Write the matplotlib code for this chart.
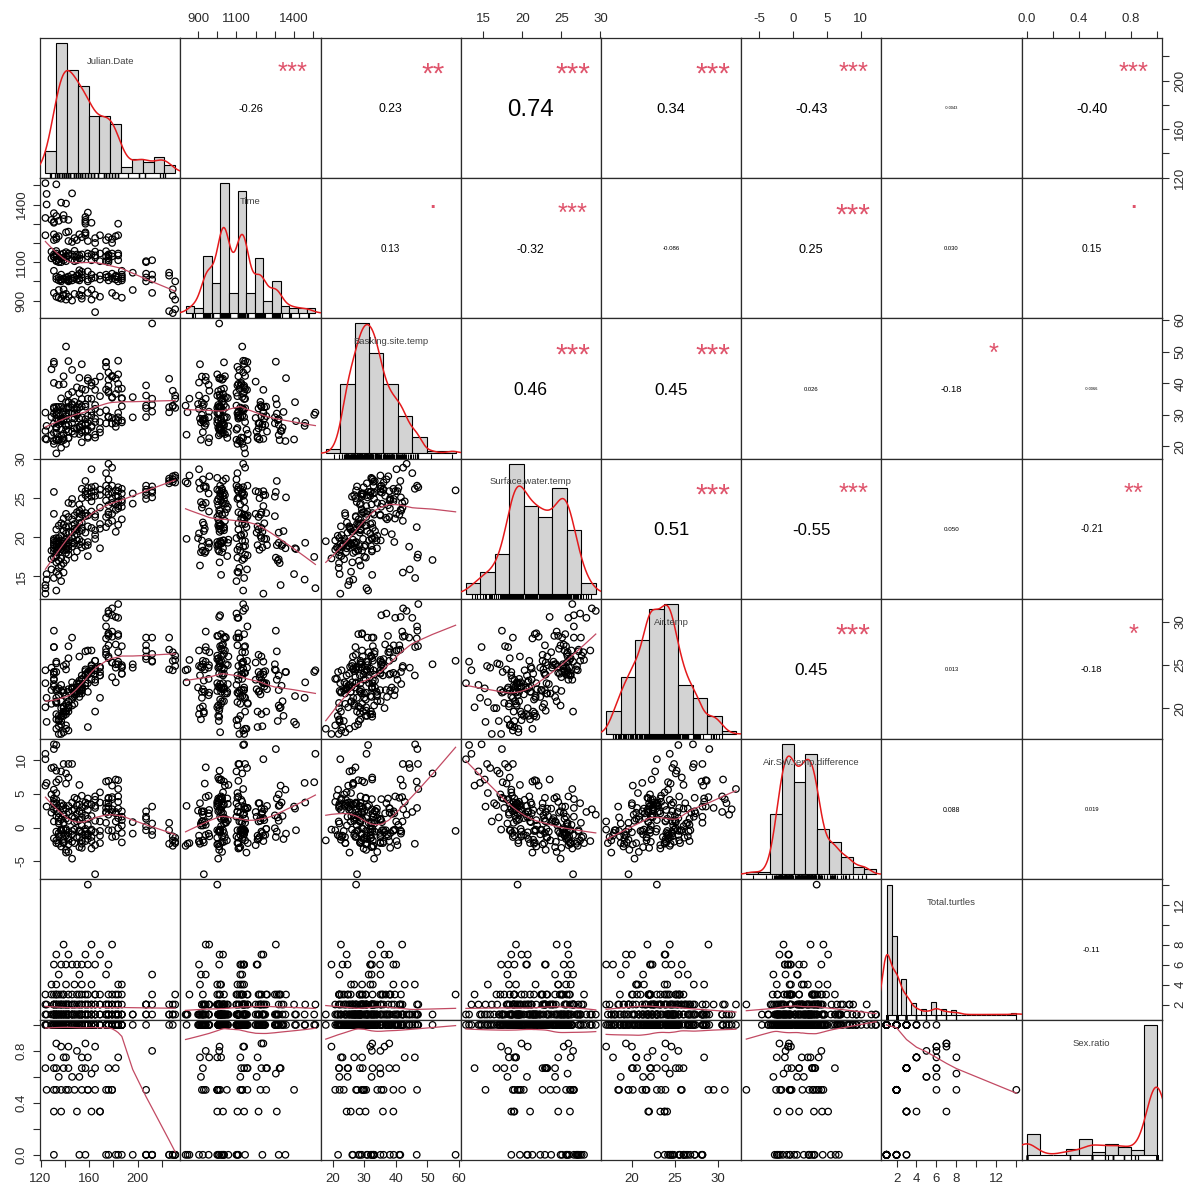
"""
turtle_pairs.py
Correlation matrix chart for the basking-turtle survey: histograms with
density curves on the diagonal, scatter + lowess below, coefficients above.
"""

import numpy as np
import matplotlib
matplotlib.use("Agg")
import matplotlib.pyplot as plt
from matplotlib.transforms import blended_transform_factory

plt.rcParams["font.family"] = ["Liberation Sans", "DejaVu Sans"]


# ─── Survey observations (one entry per sighting, grouped by day) ────────────

julian_date = [
    124, 124, 124,
    125, 125,
    129, 129, 129,
    131, 131, 131, 131, 131, 131, 131, 131, 131, 131,
    133, 133, 133, 133, 133, 133, 133, 133, 133, 133, 133, 133,
    135, 135, 135, 135, 135, 135, 135, 135,
    137, 137, 137, 137, 137, 137, 137, 137, 137,
    139, 139, 139, 139, 139, 139, 139, 139, 139,
    141, 141, 141, 141, 141, 141, 141, 141, 141,
    143, 143, 143, 143, 143, 143, 143, 143, 143, 143,
    146, 146, 146, 146, 146, 146, 146, 146,
    148, 148, 148, 148, 148, 148,
    150, 150, 150, 150, 150,
    152, 152, 152, 152, 152, 152, 152, 152,
    154, 154, 154, 154, 154, 154, 154, 154, 154,
    157, 157, 157, 157, 157, 157, 157,
    159, 159, 159, 159, 159, 159, 159, 159,
    162, 162, 162, 162, 162, 162, 162,
    165, 165, 165, 165, 165, 165, 165, 165,
    169, 169, 169, 169, 169, 169,
    174, 174, 174, 174, 174, 174,
    176, 176, 176, 176, 176, 176, 176, 176,
    179, 179, 179, 179, 179, 179, 179,
    182, 182, 182, 182, 182,
    184, 184, 184, 184, 184, 184, 184,
    187, 187, 187, 187, 187, 187,
    196, 196,
    207, 207, 207, 207, 207,
    212, 212, 212, 212,
    226, 226, 226,
    229, 229, 229,
    231, 231, 231,
]

time_hhmm = [
    1240, 1511, 1330,
    1455, 1400,
    1155, 1320, 1120,
    1140, 1305, 940, 1355, 1310, 1055, 1245, 1125, 1215, 1130,
    1135, 1012, 1505, 1220, 920, 1340, 1145, 1230, 1025, 1110, 1158, 1105,
    1020, 1115, 1315, 915, 1235, 955, 1100, 1005,
    1100, 910, 1140, 1410, 1008, 1035, 1000, 1120, 1010,
    1110, 1325, 925, 1145, 1015, 958, 1345, 930, 1125,
    1130, 935, 1405, 1020, 1255, 1105, 905, 1152, 1010,
    1145, 1005, 1259, 920, 1320, 1135, 1012, 1210, 1000, 1025,
    1115, 1458, 900, 1205, 1015, 1140, 1035, 1005,
    1020, 1225, 935, 1130, 1159, 1105,
    1030, 1215, 1140, 1110, 1010,
    1058, 930, 1245, 1135, 1040, 1120, 1005, 1015,
    1020, 1230, 925, 1140, 1050, 955, 1115, 1035, 910,
    1320, 1300, 1335, 1255, 1250, 1240, 1310,
    1010, 1145, 1000, 1052, 1358, 1130, 940, 1210,
    1035, 957, 1140, 1015, 1305, 1110, 905,
    1020, 1155, 840, 1225, 1135, 1200, 930, 1125,
    1145, 920, 1030, 1240, 1105, 1010,
    1035, 1215, 1020, 1130, 1157, 1105,
    1110, 1025, 1230, 1005, 1140, 1120, 1100, 1135,
    1040, 1200, 940, 1220, 1130, 1015, 1145,
    1235, 1010, 925, 1030, 1025,
    1020, 1145, 1240, 1000, 1300, 1110, 1135,
    1005, 1055, 915, 1035, 1015, 1025,
    1045, 955,
    1105, 1040, 1020, 1000, 1100,
    1110, 1035, 1010, 940,
    845, 1030, 1045,
    835, 925, 959,
    905, 1000, 855,
]

basking_site_temp = [
    22.4, 30.7, 24.9,
    26.5, 22.2,
    44.4, 23.6, 29.3,
    46.1, 46.8, 27.2, 21.7, 30.4, 24.3, 32.4, 40.1, 32.0, 20.8,
    31.2, 26.2, 30.0, 22.2, 30.0, 25.9, 17.8, 32.5, 24.2, 28.8, 22.0, 25.8,
    32.5, 21.9, 28.3, 22.1, 27.0, 39.5, 22.1, 30.4,
    25.3, 28.8, 19.6, 28.0, 23.5, 35.2, 28.5, 21.6, 32.5,
    42.2, 22.0, 28.1, 32.1, 24.0, 22.6, 30.9, 28.6, 39.7,
    51.6, 26.5, 34.0, 26.8, 29.6, 20.8, 31.9, 25.3, 30.6,
    47.0, 32.5, 24.7, 33.9, 26.8, 22.7, 36.4, 22.6, 30.6, 34.1,
    44.2, 27.4, 33.4, 24.7, 30.5, 37.2, 28.9, 33.1,
    25.7, 34.1, 28.8, 31.9, 24.0, 30.5,
    31.5, 25.7, 38.7, 29.9, 32.4,
    26.4, 33.4, 28.8, 36.8, 23.9, 32.3, 26.0, 41.7,
    25.1, 32.7, 24.5, 35.0, 29.2, 21.3, 38.2, 27.0, 46.0,
    28.6, 27.3, 24.9, 32.6, 26.8, 37.9, 33.3,
    25.2, 35.1, 27.4, 22.7, 41.6, 29.7, 40.8, 23.1,
    26.5, 31.0, 39.2, 26.1, 35.1, 29.8, 40.2,
    28.8, 37.9, 23.7, 33.1, 31.9, 40.5, 27.7, 22.8,
    27.7, 42.1, 24.4, 30.8, 35.9, 25.5,
    46.6, 27.3, 38.0, 31.4, 46.7, 45.2,
    29.3, 41.1, 29.5, 37.5, 29.3, 39.2, 37.0, 43.4,
    42.2, 29.0, 42.0, 27.2, 35.6, 35.4, 42.3,
    26.2, 41.5, 28.6, 36.6, 27.4,
    28.1, 38.1, 30.6, 42.8, 29.2, 39.8, 47.1,
    28.2, 35.3, 27.6, 38.3, 32.7, 35.1,
    35.6, 29.2,
    39.3, 29.3, 32.1, 36.1, 32.9,
    31.0, 33.2, 58.9, 35.1,
    30.8, 41.4, 32.4,
    32.9, 32.7, 37.6,
    36.1, 32.2, 35.1,
]

surface_water_temp = [
    12.8, 13.5, 13.9,
    14.6, 15.3,
    15.9, 17.2, 18.3,
    14.8, 17.4, 18.2, 18.6, 19.0, 19.3, 19.8, 23.0, 25.8, 19.6,
    13.2, 16.8, 17.5, 18.4, 18.8, 19.1, 19.5, 19.9, 18.1, 21.0, 17.7, 15.6,
    15.2, 16.1, 17.0, 18.1, 18.7, 19.4, 19.9, 21.5,
    14.4, 16.4, 17.3, 18.5, 19.0, 19.6, 18.9, 20.2, 21.8,
    15.5, 16.7, 18.3, 18.9, 19.5, 19.2, 20.8, 21.6, 22.4,
    17.1, 18.0, 18.6, 19.2, 19.8, 18.4, 20.5, 21.3, 23.0,
    17.8, 18.4, 19.0, 19.6, 19.3, 18.8, 20.7, 21.4, 22.6, 24.4,
    18.8, 19.3, 19.9, 20.6, 21.5, 22.3, 24.3, 24.9,
    19.2, 20.2, 21.1, 21.7, 22.8, 17.4,
    19.6, 21.0, 20.4, 23.2, 18.2,
    19.7, 20.8, 21.8, 22.5, 23.1, 24.2, 19.1, 23.4,
    19.4, 21.2, 21.9, 22.9, 23.6, 18.7, 25.0, 20.9, 26.2,
    20.6, 22.7, 18.9, 23.1, 25.4, 25.9, 27.2,
    21.4, 22.8, 19.4, 17.6, 25.1, 25.6, 26.3, 19.0,
    21.2, 23.3, 24.6, 25.2, 25.8, 26.4, 28.7,
    20.9, 22.6, 19.8, 22.9, 25.3, 25.9, 26.5, 20.3,
    21.7, 23.8, 18.6, 25.4, 26.1, 21.1,
    21.3, 22.6, 24.7, 25.8, 26.6, 28.2,
    21.8, 22.9, 23.2, 24.1, 25.5, 26.2, 27.4, 29.4,
    22.1, 23.0, 24.4, 25.0, 25.7, 26.6, 28.9,
    20.7, 23.5, 24.2, 25.3, 26.0,
    21.6, 23.7, 24.0, 24.6, 25.2, 25.9, 26.4,
    22.3, 23.9, 24.5, 24.8, 25.6, 26.2,
    24.3, 25.6,
    24.9, 25.4, 25.8, 26.1, 26.6,
    25.1, 25.7, 26.0, 26.5,
    26.9, 27.2, 27.5,
    27.1, 27.4, 27.8,
    27.0, 27.6, 27.9,
]

air_temp = [
    22.9, 24.4, 20.1,
    21.2, 18.4,
    24.7, 22.1, 20.5,
    27.1, 29.0, 27.1, 24.2, 23.3, 22.8, 22.5, 23.9, 24.2, 23.4,
    25.4, 25.2, 24.2, 22.0, 21.2, 20.8, 17.6, 19.3, 22.2, 18.7, 20.6, 20.7,
    22.3, 17.0, 18.5, 18.7, 17.9, 21.5, 18.6, 19.1,
    22.7, 20.0, 17.0, 18.1, 18.5, 20.8, 22.0, 19.1, 19.0,
    24.9, 20.0, 20.2, 19.6, 17.2, 21.8, 19.1, 19.4, 22.1,
    25.1, 24.5, 21.4, 20.5, 19.6, 18.0, 19.3, 17.6, 19.7,
    27.2, 25.8, 22.2, 21.9, 20.3, 17.4, 20.0, 19.6, 20.1, 20.8,
    28.2, 23.0, 22.4, 22.2, 21.0, 21.3, 22.2, 20.3,
    21.9, 21.6, 21.9, 21.4, 20.5, 21.8,
    22.9, 21.9, 22.4, 21.7, 22.4,
    26.0, 23.2, 22.9, 22.1, 21.7, 21.3, 22.5, 22.8,
    22.4, 23.3, 22.2, 22.1, 21.7, 23.4, 22.0, 22.4, 23.8,
    23.8, 24.5, 22.6, 22.9, 24.3, 23.9, 26.6,
    24.0, 24.1, 22.9, 21.9, 24.2, 23.9, 26.7, 17.8,
    24.6, 25.0, 24.1, 24.9, 24.4, 23.3, 26.7,
    25.5, 25.5, 23.0, 23.9, 24.6, 23.3, 19.6, 24.4,
    21.2, 24.7, 23.8, 24.2, 23.8, 24.8,
    28.1, 26.2, 26.9, 26.5, 29.5, 30.5,
    28.7, 27.3, 26.0, 28.4, 28.6, 25.8, 31.0, 31.3,
    28.3, 25.3, 28.9, 23.6, 25.3, 30.8, 31.6,
    23.0, 30.6, 25.1, 27.4, 24.7,
    28.6, 26.5, 25.4, 28.4, 25.1, 30.5, 32.1,
    24.7, 25.0, 24.8, 24.0, 27.2, 24.0,
    25.1, 24.7,
    27.3, 26.7, 26.0, 25.7, 28.2,
    28.2, 26.3, 25.5, 25.4,
    24.5, 26.8, 28.2,
    24.4, 25.5, 26.5,
    24.9, 26.1, 25.6,
]

air_sw_temp_difference = [
    10.1, 10.9, 6.2,
    6.6, 3.1,
    8.8, 4.9, 2.2,
    12.3, 11.6, 8.9, 5.6, 4.3, 3.5, 2.7, 0.9, -1.6, 3.8,
    12.2, 8.4, 6.7, 3.6, 2.4, 1.7, -1.9, -0.6, 4.1, -2.3, 2.9, 5.1,
    7.1, 0.9, 1.5, 0.6, -0.8, 2.1, -1.3, -2.4,
    8.3, 3.6, -0.3, -0.4, -0.5, 1.2, 3.1, -1.1, -2.8,
    9.4, 3.3, 1.9, 0.7, -2.3, 2.6, -1.7, -2.2, -0.3,
    8.0, 6.5, 2.8, 1.3, -0.2, -0.4, -1.2, -3.7, -3.3,
    9.4, 7.4, 3.2, 2.3, 1.0, -1.4, -0.7, -1.8, -2.5, -3.6,
    9.4, 3.7, 2.5, 1.6, -0.5, -1.0, -2.1, -4.6,
    2.7, 1.4, 0.8, -0.3, -2.3, 4.4,
    3.3, 0.9, 2.0, -1.5, 4.2,
    6.3, 2.4, 1.1, -0.4, -1.4, -2.9, 3.4, -0.6,
    3.0, 2.1, 0.3, -0.8, -1.9, 4.7, -3.0, 1.5, -2.4,
    3.2, 1.8, 3.7, -0.2, -1.1, -2.0, -0.6,
    2.6, 1.3, 3.5, 4.3, -0.9, -1.7, 0.4, -1.2,
    3.4, 1.7, -0.5, -0.3, -1.4, -3.1, -2.0,
    4.6, 2.9, 3.2, 1.0, -0.7, -2.6, -6.9, 4.1,
    -0.5, 0.9, 5.2, -1.2, -2.3, 3.7,
    6.8, 3.6, 2.2, 0.7, 2.9, 2.3,
    6.9, 4.4, 2.8, 4.3, 3.1, -0.4, 3.6, 1.9,
    6.2, 2.3, 4.5, -1.4, -0.4, 4.2, 2.7,
    2.3, 7.1, 0.9, 2.1, -1.3,
    7.0, 2.8, 1.4, 3.8, -0.1, 4.6, 5.7,
    2.4, 1.1, 0.3, -0.8, 1.6, -2.2,
    0.8, -0.9,
    2.4, 1.3, 0.2, -0.4, 1.6,
    3.1, 0.6, -0.5, -1.1,
    -2.4, -0.4, 0.7,
    -2.7, -1.9, -1.3,
    -2.1, -1.5, -2.3,
]

total_turtles = [
    1, 2, 3,
    1, 2,
    1, 3, 4,
    1, 1, 2, 1, 3, 1, 2, 6, 1, 2,
    1, 2, 1, 3, 2, 1, 1, 7, 2, 1, 3, 4,
    1, 2, 1, 5, 1, 2, 3, 1,
    2, 1, 6, 1, 2, 1, 3, 1, 2,
    1, 3, 1, 2, 1, 8, 2, 1, 3,
    1, 2, 1, 4, 2, 1, 6, 1, 2,
    1, 2, 3, 1, 1, 2, 7, 1, 2, 1,
    1, 2, 1, 6, 3, 1, 2, 1,
    1, 2, 1, 4, 2, 1,
    1, 3, 2, 1, 6,
    1, 2, 1, 3, 1, 5, 2, 1,
    1, 2, 1, 6, 2, 1, 3, 1, 4,
    2, 1, 2, 3, 1, 7, 1,
    1, 2, 14, 1, 3, 2, 1, 6,
    2, 1, 4, 1, 8, 2, 1,
    1, 3, 1, 2, 6, 1, 2, 3,
    1, 2, 7, 1, 3, 2,
    1, 2, 1, 5, 2, 1,
    1, 2, 3, 1, 2, 6, 1, 1,
    1, 2, 8, 1, 3, 2, 1,
    1, 2, 3, 1, 1,
    1, 1, 2, 4, 3, 1, 2,
    1, 2, 1, 3, 4, 1,
    1, 1,
    1, 2, 1, 2, 2,
    1, 2, 3, 5,
    1, 2, 1,
    1, 1, 2,
    1, 2, 3,
]

sex_ratio = [
    1, 1, 0.667,
    1, 0.5,
    1, 1, 0.75,
    1, 1, 1, 0, 0.333, 1, 1, 0.667, 1, 0.5,
    1, 1, 1, 1, 0.5, 1, 1, 0.857, 1, 1, 0.667, 1,
    1, 1, 1, 0.6, 1, 1, 1, 1,
    1, 1, 0.833, 1, 0.5, 1, 0.333, 1, 1,
    1, 0.667, 1, 1, 1, 0.75, 1, 1, 1,
    1, 1, 1, 0.75, 0.5, 1, 1, 1, 1,
    1, 1, 0.667, 1, 1, 1, 0.833, 1, 0.5, 1,
    1, 1, 1, 0.6, 1, 1, 1, 1,
    1, 0.5, 1, 1, 1, 1,
    1, 0.333, 1, 1, 0.8,
    0, 1, 1, 1, 1, 0.6, 1, 1,
    1, 1, 1, 0.667, 0.5, 1, 1, 1, 0.75,
    0, 1, 1, 0.667, 1, 0.857, 1,
    1, 1, 0.5, 1, 1, 0.5, 1, 0.75,
    1, 1, 0.333, 1, 0.625, 1, 1,
    1, 0.667, 1, 1, 0.833, 1, 0.5, 1,
    1, 1, 0.333, 1, 0.333, 1,
    0, 1, 1, 1, 0.5, 1,
    1, 0, 0.667, 1, 1, 0.5, 1, 1,
    1, 1, 0.5, 1, 1, 0.5, 1,
    0, 1, 0.667, 1, 1,
    1, 0, 1, 0.75, 1, 1, 1,
    0, 1, 1, 1, 1, 1,
    1, 0,
    0, 1, 0, 0.5, 0,
    0, 0, 0, 0.8,
    0, 0, 1,
    0, 0, 1,
    0, 0, 0,
]

var_names = [
    "Julian.Date", "Time", "Basking.site.temp", "Surface.water.temp",
    "Air.temp", "Air.SW.temp.difference", "Total.turtles", "Sex.ratio",
]

# printed Pearson coefficients, upper triangle read row by row
cor_text = [
    "-0.26", "0.23", "0.74", "0.34", "-0.43", "-0.0043", "-0.40",
    "0.13", "-0.32", "-0.086", "0.25", "0.030", "0.15",
    "0.46", "0.45", "0.026", "-0.18", "-0.0066",
    "0.51", "-0.55", "0.050", "-0.21",
    "0.45", "0.013", "-0.18",
    "0.088", "0.019",
    "-0.11",
]
cor_stars = [
    "***", "**", "***", "***", "***", "", "***",
    ".", "***", "", "***", "", ".",
    "***", "***", "", "*", "",
    "***", "***", "", "**",
    "***", "", "*",
    "", "",
    "",
]

# histogram break grids: (first, last, step)
hist_breaks = [
    (120, 240, 10), (800, 1550, 50), (15, 60, 5), (12, 30, 2),
    (16, 34, 2), (-8, 14, 2), (1, 14, 0.5), (0, 1, 0.1),
]

tick_at = [
    [120, 140, 160, 180, 200, 220],
    [900, 1000, 1100, 1200, 1300, 1400, 1500],
    [20, 30, 40, 50, 60],
    [15, 20, 25, 30],
    [20, 25, 30],
    [-5, 0, 5, 10],
    [2, 4, 6, 8, 10, 12, 14],
    [0.0, 0.2, 0.4, 0.6, 0.8, 1.0],
]
tick_text = [
    ["120", "", "160", "", "200", ""],
    ["900", "", "1100", "", "", "1400", ""],
    ["20", "30", "40", "50", "60"],
    ["15", "20", "25", "30"],
    ["20", "25", "30"],
    ["-5", "0", "5", "10"],
    ["2", "4", "6", "8", "", "12", ""],
    ["0.0", "", "0.4", "", "0.8", ""],
]


# ─── Styling ─────────────────────────────────────────────────────────────────

FIG_W, FIG_H = 1196, 1194
GRID_LEFT, GRID_RIGHT = 40.2, 1161.7      # px
GRID_TOP, GRID_BOTTOM = 37.7, 1160.0      # px from top

BAR_GREY = "#D3D3D3"
DENS_RED = "#E41A1C"
SMOOTH_RED = "#C24A63"
STAR_RED = "#DF536B"
FRAME = "#2b2b2b"

# Arial advance widths (em) for the characters of the coefficient labels
ADVANCE = {c: 0.556 for c in "0123456789"}
ADVANCE.update({".": 0.278, "-": 0.333})
COR_WIDTH_PT = 42.0                        # label width at full scale


# ─── Helpers ─────────────────────────────────────────────────────────────────

def panel_rect(i, j):
    pw = (GRID_RIGHT - GRID_LEFT) / 8
    ph = (GRID_BOTTOM - GRID_TOP) / 8
    return [(GRID_LEFT + j * pw) / FIG_W,
            1 - (GRID_TOP + (i + 1) * ph) / FIG_H,
            pw / FIG_W, ph / FIG_H]


def r_hist(x, first, last, step):
    """Right-closed histogram densities on a fixed break grid."""
    breaks = np.round(np.arange(first, last + step / 2, step), 6)
    fuzz = 1e-7 * step
    fb = breaks + fuzz
    fb[0] = breaks[0] - fuzz
    counts, _ = np.histogram(x, bins=fb)
    return breaks, counts / (counts.sum() * step)


def gauss_density(x, n_grid=512):
    n = len(x)
    sd = x.std(ddof=1)
    q75, q25 = np.percentile(x, [75, 25])
    lo = min(sd, (q75 - q25) / 1.34)
    if lo <= 0:
        lo = sd
    bw = 0.9 * lo * n ** -0.2
    grid = np.linspace(x.min() - 3 * bw, x.max() + 3 * bw, n_grid)
    z = (grid[:, None] - x[None, :]) / bw
    dens = np.exp(-0.5 * z ** 2).sum(axis=1) / (n * bw * np.sqrt(2 * np.pi))
    return grid, dens


def lowess(x, y, f=2 / 3, iters=3):
    """Locally weighted linear smoother with robustness iterations."""
    order = np.argsort(x, kind="stable")
    x = np.asarray(x, float)[order]
    y = np.asarray(y, float)[order]
    n = len(x)
    ns = max(min(int(round(f * n)), n), 2)
    xr = x[-1] - x[0]
    ux = np.unique(x)
    robust = np.ones(n)
    fit_u = np.zeros(len(ux))
    for it in range(iters + 1):
        for k, x0 in enumerate(ux):
            d = np.abs(x - x0)
            h = np.partition(d, ns - 1)[ns - 1]
            if h <= 0:
                h = 1e-12
            u = d / h
            w = np.where(u <= 0.999, (1 - np.clip(u, 0, 1) ** 3) ** 3, 0.0) * robust
            sw = w.sum()
            if sw <= 0:
                fit_u[k] = y[d == 0].mean()
                continue
            w = w / sw
            xm = (w * x).sum()
            ss = (w * (x - xm) ** 2).sum()
            if np.sqrt(ss) > 0.001 * xr:
                b = (w * (x - xm) * y).sum() / ss
                fit_u[k] = (w * y).sum() + b * (x0 - xm)
            else:
                fit_u[k] = (w * y).sum()
        if it == iters:
            break
        fitted = np.interp(x, ux, fit_u)
        res = y - fitted
        cmad = 6 * np.median(np.abs(res))
        if cmad < 1e-7 * np.mean(np.abs(y)):
            break
        r = np.abs(res) / cmad
        robust = np.where(r <= 0.999, (1 - np.clip(r, 0, 1) ** 2) ** 2, 0.0)
    return ux, fit_u


def label_width_em(txt):
    return sum(ADVANCE.get(c, 0.556) for c in txt)


def ink_centered(ax, x, y, txt, size, mid, **kw):
    """Place text so its glyphs (not its line box) are centred on (x, y)."""
    ax.annotate(txt, xy=(x, y), xycoords="axes fraction",
                xytext=(0, -mid * size), textcoords="offset points",
                ha="center", va="baseline", fontsize=size, **kw)


def style_axes(ax, i, j, lims):
    ax.set_xlim(lims[j])
    ax.set_ylim(lims[i])
    ax.set_xticks([])
    ax.set_yticks([])
    for sp in ax.spines.values():
        sp.set_linewidth(0.9)
        sp.set_color(FRAME)
    ax.tick_params(direction="out", length=5, width=0.8, colors=FRAME,
                   labelsize=9.5, pad=4)

    if i == 0 and j % 2 == 1:
        ax.xaxis.set_ticks_position("top")
        ax.set_xticks(tick_at[j], tick_text[j])
    if i == 7 and j % 2 == 0:
        ax.xaxis.set_ticks_position("bottom")
        ax.set_xticks(tick_at[j], tick_text[j])
    if j == 0 and i % 2 == 1:
        ax.yaxis.set_ticks_position("left")
        ax.set_yticks(tick_at[i], tick_text[i])
        plt.setp(ax.get_yticklabels(), rotation=90, va="center")
    if j == 7 and i % 2 == 0:
        ax.yaxis.set_ticks_position("right")
        ax.set_yticks(tick_at[i], tick_text[i])
        plt.setp(ax.get_yticklabels(), rotation=90, va="center")


# ─── Panels ──────────────────────────────────────────────────────────────────

def draw_diag(fig, k, x):
    hx = fig.add_axes(panel_rect(k, k))
    hx.set_axis_off()
    first, last, step = hist_breaks[k]
    breaks, dens = r_hist(x, first, last, step)
    span = last - first
    dmax = dens.max()
    hx.set_xlim(first - 0.04 * span, last + 0.04 * span)
    hx.set_ylim(-0.04 * dmax, 1.04 * dmax)

    hx.bar(breaks[:-1], dens, width=step, align="edge", color=BAR_GREY,
           edgecolor="black", linewidth=0.8, zorder=2)
    gx, gy = gauss_density(x)
    hx.plot(gx, gy, color=DENS_RED, lw=1.1, zorder=3)

    rug_tf = blended_transform_factory(hx.transData, hx.transAxes)
    hx.vlines(x, 0, 0.035, transform=rug_tf, color="black", lw=0.8, zorder=4)

    hx.text(0.5, 0.833, var_names[k], transform=hx.transAxes, ha="center",
            va="center", fontsize=6.8, color="#404040", zorder=5)


def draw_lower(ax, x, y):
    ax.scatter(x, y, s=22, facecolors="none", edgecolors="black",
               linewidths=0.9, zorder=2)
    lx, ly = lowess(x, y)
    ax.plot(lx, ly, color=SMOOTH_RED, lw=0.9, zorder=3)


def draw_upper(ax, txt, stars):
    r = abs(float(txt))
    w_em = label_width_em(txt)
    size = COR_WIDTH_PT * (r + 0.3) / 1.3 / w_em
    ink_centered(ax, 0.5, 0.5, txt, size, 0.358, color="black")
    if stars:
        star_size = COR_WIDTH_PT / w_em
        mid = 0.05 if stars == "." else 0.57
        ink_centered(ax, 0.8, 0.8, stars, star_size, mid, color=STAR_RED)


def build_chart(path="out.png"):
    data = [np.asarray(v, float) for v in (
        julian_date, time_hhmm, basking_site_temp, surface_water_temp,
        air_temp, air_sw_temp_difference, total_turtles, sex_ratio)]
    lims = []
    for v in data:
        lo, hi = v.min(), v.max()
        pad = 0.04 * (hi - lo)
        lims.append((lo - pad, hi + pad))

    fig = plt.figure(figsize=(FIG_W / 100, FIG_H / 100), dpi=100)
    fig.patch.set_facecolor("white")

    upper = iter(zip(cor_text, cor_stars))
    for i in range(8):
        for j in range(8):
            ax = fig.add_axes(panel_rect(i, j))
            style_axes(ax, i, j, lims)
            if i > j:
                draw_lower(ax, data[j], data[i])
            elif i < j:
                txt, stars = next(upper)
                draw_upper(ax, txt, stars)
    for k in range(8):
        draw_diag(fig, k, data[k])

    fig.savefig(path, dpi=100)
    plt.close(fig)


if __name__ == "__main__":
    build_chart()
